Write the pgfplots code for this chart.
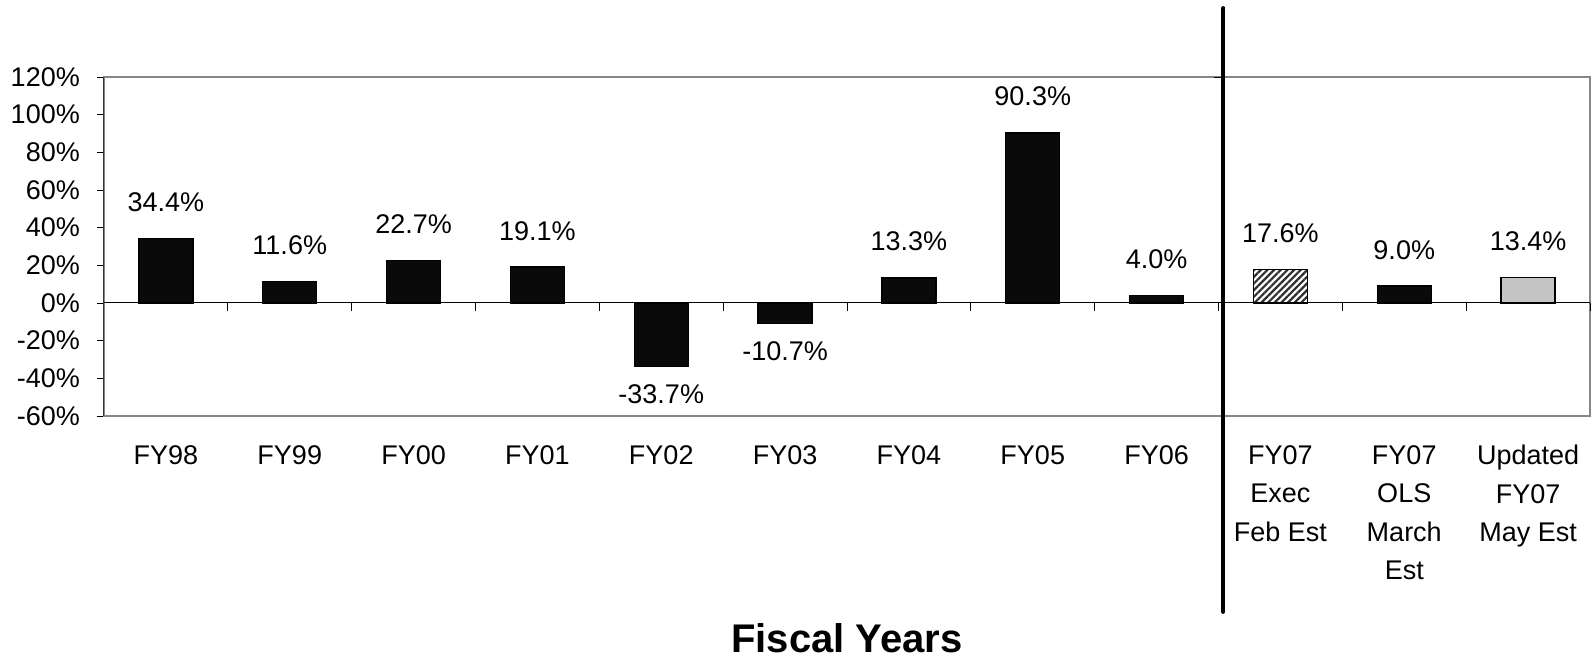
\documentclass[border=0pt]{standalone}
\usepackage{pgfplots}
\pgfplotsset{compat=1.18}
\usepackage{fontspec}
\setmainfont{Liberation Sans}
\usetikzlibrary{patterns.meta}

\definecolor{barblack}{HTML}{0A0A0A}
\definecolor{framegray}{HTML}{868686}
\definecolor{lightbar}{HTML}{C4C4C4}
\definecolor{hatch}{HTML}{303030}

\newcommand{\lbl}{\fontsize{27}{32}\selectfont}

\begin{document}
\begin{tikzpicture}
\useasboundingbox (-104pt,-244pt) rectangle (1489pt,416pt);
\begin{axis}[
  at={(0pt,0pt)}, anchor=south west,
  scale only axis, width=1486pt, height=339pt,
  xmin=-0.5, xmax=11.5, ymin=-60, ymax=120,
  axis line style={framegray, line width=1.5pt},
  clip=false,
  ybar, bar shift=0pt, bar width=54pt,
  xtick={0,...,11},
  xticklabels={FY98,FY99,FY00,FY01,FY02,FY03,FY04,FY05,FY06,
    {FY07\\Exec\\Feb Est},{FY07\\OLS\\March\\Est},{Updated\\FY07\\May Est}},
  x tick style={draw=none},
  xticklabel style={align=center, anchor=north, inner sep=0pt, yshift=-22pt,
    font=\fontsize{27}{38.5}\selectfont},
  ytick={-60,-40,...,120},
  yticklabels={-60\%,-40\%,-20\%,0\%,20\%,40\%,60\%,80\%,100\%,120\%},
  ytick pos=left,
  tick align=outside,
  major tick length=7pt,
  y tick style={draw=black, line width=0.8pt},
  yticklabel style={anchor=east, inner sep=0pt, xshift=-17pt, font=\lbl},
  nodes near coords,
  point meta=explicit symbolic,
  every node near coord/.style={font=\lbl, inner sep=0pt, anchor=base, yshift=27pt, text=black},
]
% zero line and category ticks
\draw[black, line width=1pt] (axis cs:-0.5,0) -- (axis cs:11.5,0);
\pgfplotsinvokeforeach{0.5,1.5,2.5,3.5,4.5,5.5,6.5,7.5,8.5,9.5,10.5,11.5}{
  \draw[black, line width=0.8pt] (axis cs:#1,0) -- ([yshift=-8pt]axis cs:#1,0);
}
\draw[black!80, line width=1pt] (axis cs:-0.5,-60) -- (axis cs:-0.5,120);

\addplot[fill=barblack, draw=black, line width=1.2pt] coordinates {
  (0,34.4) [34.4\%]
  (1,11.6) [11.6\%]
  (2,22.7) [22.7\%]
  (3,19.1) [19.1\%]
  (6,13.3) [13.3\%]
  (7,90.3) [90.3\%]
  (8,4.0)  [4.0\%]
  (10,9.0) [9.0\%]
};
\addplot[fill=barblack, draw=black, line width=1.2pt,
  every node near coord/.style={font=\lbl, inner sep=0pt, anchor=north, yshift=-18pt, text=black}]
  coordinates {
  (4,-33.7) [-33.7\%]
  (5,-10.7) [-10.7\%]
};
\addplot[fill=white, draw=black, line width=1.2pt,
  postaction={pattern={Lines[angle=45,distance=4.7pt,line width=2.2pt]}, pattern color=hatch}]
  coordinates {(9,17.6) [17.6\%]};
\addplot[fill=lightbar, draw=black, line width=1.2pt] coordinates {(11,13.4) [13.4\%]};

% divider between actuals and estimates
\draw[black, line width=4pt, line cap=round] (axis cs:8.54,156.6) -- (axis cs:8.54,-164);
\draw[black, line width=0.8pt] (axis cs:8.54,120) -- ([xshift=-9pt]axis cs:8.54,120);
\end{axis}
\node[anchor=base, font=\fontsize{40}{48}\selectfont\bfseries] at (743pt,-237pt) {Fiscal Years};
\end{tikzpicture}
\end{document}
